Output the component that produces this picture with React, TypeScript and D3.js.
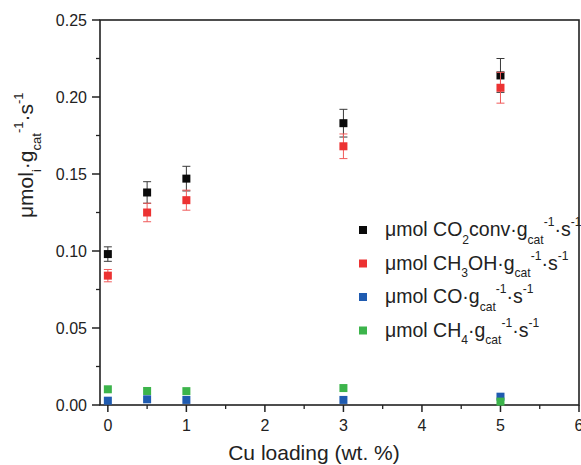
import * as d3 from 'd3';

const loading = [0, 0.5, 1, 3, 5];
const co2Conv = [0.098, 0.138, 0.147, 0.183, 0.214];
const co2Err = [0.0047, 0.007, 0.008, 0.009, 0.011];
const methanol = [0.084, 0.125, 0.133, 0.168, 0.206];
const methanolErr = [0.004, 0.006, 0.0065, 0.008, 0.010];
const co = [0.0028, 0.0037, 0.0033, 0.0033, 0.0054];
const ch4 = [0.0102, 0.0091, 0.009, 0.011, 0.0022];
const xTicks = [0, 1, 2, 3, 4, 5, 6];
const yTicks = [0, 0.05, 0.1, 0.15, 0.2, 0.25];

type Seg = { t: string; s?: 'sub' | 'sup' };

const seriesList: { name: Seg[]; values: number[]; err?: number[]; color: string; errColor?: string }[] = [
  {
    name: [{ t: 'μmol CO' }, { t: '2', s: 'sub' }, { t: 'conv·g' }, { t: 'cat', s: 'sub' }, { t: '-1', s: 'sup' }, { t: '·s' }, { t: '-1', s: 'sup' }],
    values: co2Conv, err: co2Err, color: '#0a0a0a', errColor: '#3a3a3a',
  },
  {
    name: [{ t: 'μmol CH' }, { t: '3', s: 'sub' }, { t: 'OH·g' }, { t: 'cat', s: 'sub' }, { t: '-1', s: 'sup' }, { t: '·s' }, { t: '-1', s: 'sup' }],
    values: methanol, err: methanolErr, color: '#ec3232', errColor: '#f05a5a',
  },
  {
    name: [{ t: 'μmol CO·g' }, { t: 'cat', s: 'sub' }, { t: '-1', s: 'sup' }, { t: '·s' }, { t: '-1', s: 'sup' }],
    values: co, color: '#1f5bb0',
  },
  {
    name: [{ t: 'μmol CH' }, { t: '4', s: 'sub' }, { t: '·g' }, { t: 'cat', s: 'sub' }, { t: '-1', s: 'sup' }, { t: '·s' }, { t: '-1', s: 'sup' }],
    values: ch4, color: '#3cb44b',
  },
];

// sub/superscripts as tspans with dy offsets relative to the baseline
function rich(segs: Seg[], size: number) {
  let shift = 0;
  return segs.map((sg, i) => {
    const target = sg.s === 'sub' ? size * 0.4 : sg.s === 'sup' ? -size * 0.5 : 0;
    const dy = target - shift;
    shift = target;
    return (
      <tspan key={i} dy={dy} fontSize={sg.s ? size * 0.62 : size}>{sg.t}</tspan>
    );
  });
}

export default function App() {
  const width = 581, height = 465;
  const left = 100, right = 579, top = 20, bottom = 405;
  const x = d3.scaleLinear().domain([-0.1, 6]).range([left, right]);
  const y = d3.scaleLinear().domain([0, 0.25]).range([bottom, top]);
  const xMinor = d3.range(0.5, 6, 1);
  const yMinor = d3.range(0.025, 0.25, 0.05);
  const ms = 8;
  const font = 'Liberation Sans, Arial, sans-serif';

  return (
    <svg width={width} height={height} style={{ position: 'absolute', left: 0, top: 0, background: '#fff' }} fontFamily={font}>
      {/* frame */}
      <rect x={left} y={top} width={right - left} height={bottom - top} fill="none" stroke="#222" strokeWidth={1.6} />

      {/* y axis ticks */}
      {yTicks.map(v => (
        <g key={'y' + v}>
          <line x1={left - 8} x2={left} y1={y(v)} y2={y(v)} stroke="#222" strokeWidth={1.5} />
          <text x={left - 13} y={y(v)} dy="0.36em" textAnchor="end" fontSize={16} fill="#222">{d3.format('.2f')(v)}</text>
        </g>
      ))}
      {yMinor.map(v => (
        <line key={'ym' + v} x1={left - 4} x2={left} y1={y(v)} y2={y(v)} stroke="#222" strokeWidth={1.3} />
      ))}

      {/* x axis ticks */}
      {xTicks.map(v => (
        <g key={'x' + v}>
          <line x1={x(v)} x2={x(v)} y1={bottom} y2={bottom + 7} stroke="#222" strokeWidth={1.5} />
          <text x={x(v)} y={bottom + 26} textAnchor="middle" fontSize={16} fill="#222">{v}</text>
        </g>
      ))}
      {xMinor.map(v => (
        <line key={'xm' + v} x1={x(v)} x2={x(v)} y1={bottom} y2={bottom + 4} stroke="#222" strokeWidth={1.3} />
      ))}

      {/* axis titles */}
      <text x={314} y={460} textAnchor="middle" fontSize={21} fill="#222">Cu loading (wt. %)</text>
      <text transform="translate(33, 218) rotate(-90)" fontSize={21} fill="#222">
        {rich([{ t: 'μmol' }, { t: 'i', s: 'sub' }, { t: '·g' }, { t: 'cat', s: 'sub' }, { t: '-1', s: 'sup' }, { t: '·s' }, { t: '-1', s: 'sup' }], 21)}
      </text>

      {/* data */}
      {seriesList.map((s, si) => (
        <g key={'s' + si}>
          {s.err && s.values.map((v, i) => {
            const e = s.err![i];
            const cx = x(loading[i]);
            return (
              <g key={'e' + i} stroke={s.errColor} strokeWidth={1}>
                <line x1={cx} x2={cx} y1={y(v + e)} y2={y(v - e)} />
                <line x1={cx - 4} x2={cx + 4} y1={y(v + e)} y2={y(v + e)} />
                <line x1={cx - 4} x2={cx + 4} y1={y(v - e)} y2={y(v - e)} />
              </g>
            );
          })}
          {s.values.map((v, i) => (
            <rect key={'p' + i} x={x(loading[i]) - ms / 2} y={y(v) - ms / 2} width={ms} height={ms} fill={s.color} />
          ))}
        </g>
      ))}

      {/* legend */}
      {seriesList.map((s, si) => {
        const ly = 230 + si * 33.5;
        return (
          <g key={'l' + si}>
            <rect x={359} y={ly - 4} width={8} height={8} fill={s.color} />
            <text x={385} y={ly + 6} fontSize={19.5} fill="#222">{rich(s.name, 19.5)}</text>
          </g>
        );
      })}
    </svg>
  );
}
